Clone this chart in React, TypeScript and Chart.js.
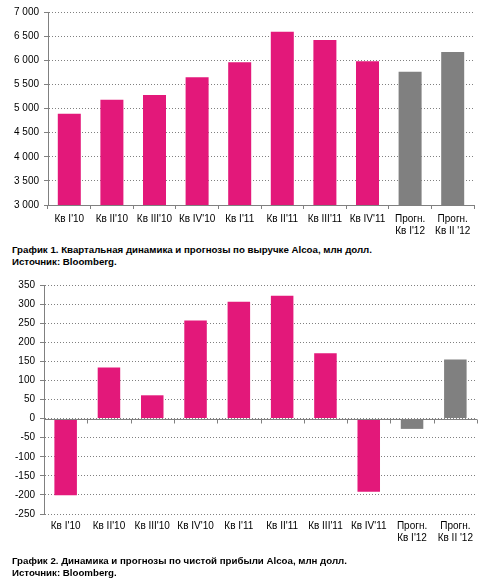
import React, { useEffect, useRef } from "react";
import { Chart, registerables } from "chart.js";

Chart.register(...registerables);

// ---- Data ----
const categories: string[][] = [
  ["Кв I'10"],
  ["Кв II'10"],
  ["Кв III'10"],
  ["Кв IV'10"],
  ["Кв I'11"],
  ["Кв II'11"],
  ["Кв III'11"],
  ["Кв IV'11"],
  ["Прогн.", "Кв I'12"],
  ["Прогн.", "Кв II '12"],
];
const isForecast = [false, false, false, false, false, false, false, false, true, true];

const revenueValues = [4890, 5180, 5280, 5650, 5960, 6590, 6420, 5980, 5760, 6170];
const revenueMin = 3000;
const revenueMax = 7000;
const revenueStep = 500;

const profitValues = [-201, 134, 61, 257, 306, 322, 171, -192, -27, 155];
const profitMin = -250;
const profitMax = 350;
const profitStep = 50;

const caption1 = "График 1. Квартальная динамика и прогнозы по выручке Alcoa, млн долл.";
const caption2 = "График 2. Динамика и прогнозы по чистой прибыли Alcoa, млн долл.";
const sourceText = "Источник: Bloomberg.";

// ---- Styles ----
const ACTUAL = "#E3187A";
const FORECAST = "#808080";
const AXIS = "#808080";
const FONT = "'Liberation Sans', Arial, sans-serif";

const barColors = isForecast.map((f) => (f ? FORECAST : ACTUAL));

const fmtThousands = (v: number) =>
  String(v).replace(/\B(?=(\d{3})+(?!\d))/g, " ");

const zeroAxisPlugin = {
  id: "zeroAxis",
  afterDatasetsDraw(chart: any) {
    const { ctx } = chart;
    const x = chart.scales.x;
    const y = chart.scales.y;
    const y0 = Math.round(y.getPixelForValue(0)) + 0.5;
    ctx.save();
    ctx.strokeStyle = AXIS;
    ctx.lineWidth = 1;
    ctx.setLineDash([]);
    ctx.beginPath();
    ctx.moveTo(x.left, y0);
    ctx.lineTo(x.right, y0);
    const n = chart.data.labels.length;
    for (let i = 0; i <= n; i++) {
      const px = Math.round(x.left + (i * x.width) / n) + 0.5;
      ctx.moveTo(px, y0);
      ctx.lineTo(px, y0 + 4);
    }
    ctx.stroke();
    ctx.restore();
  },
};

function RevenueChart() {
  const ref = useRef<HTMLCanvasElement | null>(null);
  useEffect(() => {
    if (!ref.current) return;
    const chart = new Chart(ref.current, {
      type: "bar",
      data: {
        labels: categories,
        datasets: [
          {
            data: revenueValues,
            backgroundColor: barColors,
            borderWidth: 0,
            barPercentage: 0.54,
            categoryPercentage: 1,
          },
        ],
      },
      options: {
        responsive: false,
        animation: false,
        layout: { padding: { top: 12, right: 11, left: 0, bottom: 0 }, autoPadding: false },
        plugins: { legend: { display: false }, tooltip: { enabled: false }, title: { display: false } },
        scales: {
          x: {
            grid: { display: true, drawOnChartArea: false, drawTicks: true, tickLength: 4, color: AXIS, offset: true },
            border: { display: true, color: AXIS },
            ticks: { color: "#000", font: { size: 10, family: FONT }, padding: 4, maxRotation: 0, autoSkip: false },
            afterFit: (s: any) => {
              s.height = 35;
            },
          },
          y: {
            min: revenueMin,
            max: revenueMax,
            grid: { color: AXIS, tickLength: 4, tickColor: AXIS },
            border: { display: true, color: AXIS, dash: [1, 2] },
            ticks: {
              stepSize: revenueStep,
              color: "#000",
              font: { size: 10, family: FONT },
              padding: 5,
              callback: (v: any) => fmtThousands(Number(v)),
            },
            afterFit: (s: any) => {
              s.width = 48;
            },
          },
        },
      },
    });
    return () => chart.destroy();
  }, []);
  return (
    <canvas
      ref={ref}
      width={485}
      height={240}
      style={{ position: "absolute", left: 0, top: 0, width: 485, height: 240 }}
    />
  );
}

function ProfitChart() {
  const ref = useRef<HTMLCanvasElement | null>(null);
  useEffect(() => {
    if (!ref.current) return;
    const chart = new Chart(ref.current, {
      type: "bar",
      data: {
        labels: categories,
        datasets: [
          {
            data: profitValues,
            backgroundColor: barColors,
            borderWidth: 0,
            barPercentage: 0.52,
            categoryPercentage: 1,
          },
        ],
      },
      plugins: [zeroAxisPlugin],
      options: {
        responsive: false,
        animation: false,
        layout: { padding: { top: 13, right: 8, left: 0, bottom: 0 }, autoPadding: false },
        plugins: { legend: { display: false }, tooltip: { enabled: false }, title: { display: false } },
        scales: {
          x: {
            grid: { display: false, drawTicks: false },
            border: { display: false },
            ticks: { color: "#000", font: { size: 10, family: FONT }, padding: 6, maxRotation: 0, autoSkip: false },
            afterFit: (s: any) => {
              s.height = 46;
            },
          },
          y: {
            min: profitMin,
            max: profitMax,
            grid: { color: AXIS, tickLength: 4, tickColor: AXIS },
            border: { display: true, color: AXIS, dash: [1, 2] },
            ticks: {
              stepSize: profitStep,
              color: "#000",
              font: { size: 10, family: FONT },
              padding: 5,
            },
            afterFit: (s: any) => {
              s.width = 44;
            },
          },
        },
      },
    });
    return () => chart.destroy();
  }, []);
  return (
    <canvas
      ref={ref}
      width={485}
      height={288}
      style={{ position: "absolute", left: 0, top: 272, width: 485, height: 288 }}
    />
  );
}

const captionStyle: React.CSSProperties = {
  position: "absolute",
  left: 12,
  font: `bold 9.7px ${FONT}`,
  lineHeight: "12px",
  color: "#000",
  whiteSpace: "nowrap",
};

export default function App() {
  useEffect(() => {
    document.body.style.margin = "0";
  }, []);
  return (
    <div style={{ position: "relative", width: 485, height: 580, background: "#fff", overflow: "hidden" }}>
      <RevenueChart />
      <div style={{ ...captionStyle, top: 244 }}>{caption1}</div>
      <div style={{ ...captionStyle, top: 256 }}>{sourceText}</div>
      <ProfitChart />
      <div style={{ ...captionStyle, top: 555 }}>{caption2}</div>
      <div style={{ ...captionStyle, top: 567 }}>{sourceText}</div>
    </div>
  );
}
